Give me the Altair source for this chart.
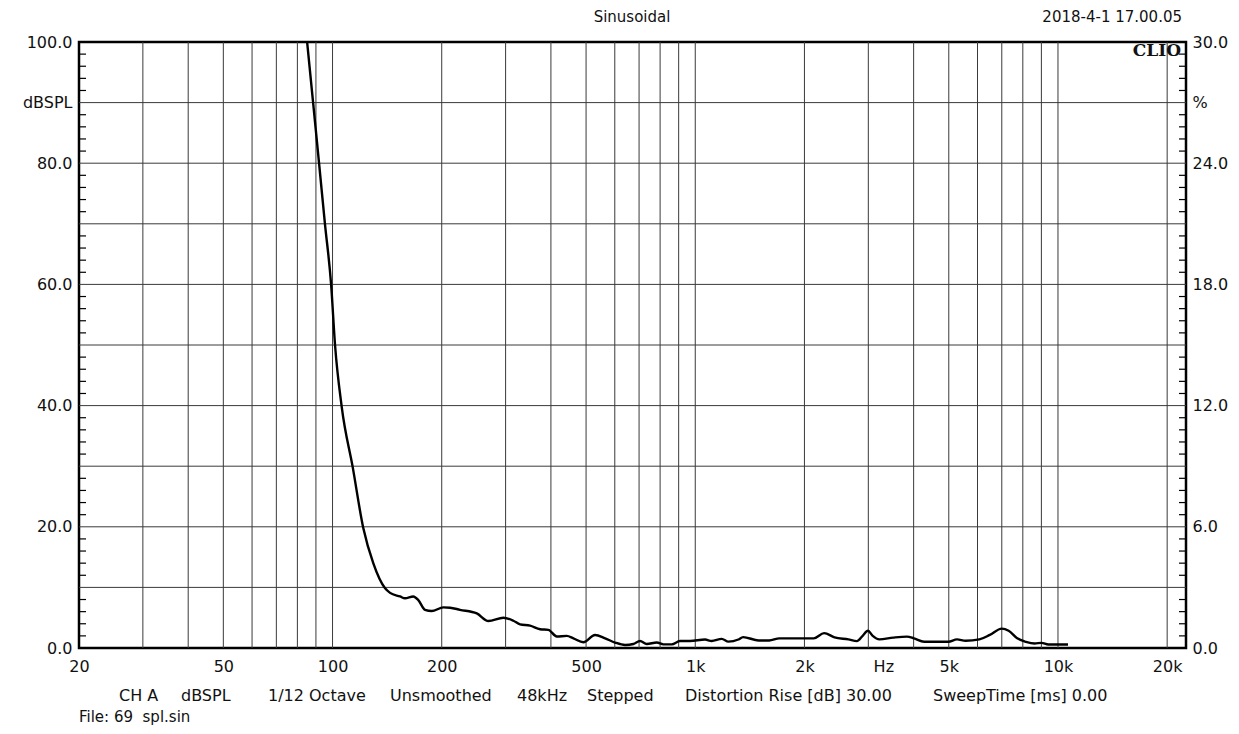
import altair as alt
import pandas as pd

# ---------------- data ----------------
freq_hz = [85.1, 88.4, 91.8, 95.3, 99.1, 101.6, 106, 113.7, 121.6, 129.5,
           139.6, 144.1, 153.5, 158.4, 167, 172.4, 179.9, 187.7, 202, 210.9,
           224.6, 249.9, 269, 295.8, 315.2, 328.9, 350.4, 373.5, 393.6, 415.2,
           442.4, 461.4, 491.5, 529.4, 564.2, 601, 640.4, 675.2, 704.4, 735,
           783.3, 816.6, 861.2, 907.8, 967.4, 1064, 1110, 1183, 1234, 1315,
           1355, 1495, 1598, 1706, 1861, 2122, 2266, 2421, 2643, 2791,
           2898, 2993, 3080, 3218, 3512, 3834, 4006, 4276, 4986, 5268,
           5564, 6071, 6486, 6998, 7311, 7722, 8160, 8618, 9004, 9407, 10656]
level_db = [100, 90, 80, 70, 60, 50, 39.8, 29.8, 19.75, 14,
            9.85, 9.1, 8.5, 8.2, 8.5, 7.9, 6.3, 6.1, 6.7, 6.65,
            6.3, 5.7, 4.45, 5.0, 4.5, 3.9, 3.7, 3.1, 3.0, 1.9,
            2.0, 1.6, 0.95, 2.15, 1.6, 0.9, 0.5, 0.66, 1.15, 0.66,
            0.9, 0.6, 0.6, 1.15, 1.15, 1.4, 1.15, 1.5, 1.05, 1.4,
            1.8, 1.25, 1.25, 1.59, 1.59, 1.59, 2.45, 1.76, 1.42, 1.14,
            2.05, 2.85, 2.05, 1.42, 1.71, 1.88, 1.59, 1.02, 1.02, 1.42,
            1.19, 1.42, 2.16, 3.2, 2.85, 1.59, 1.02, 0.74, 0.85, 0.57, 0.57]

x_grid_hz = [30, 40, 50, 60, 70, 80, 90, 100, 200, 300, 400, 500, 600, 700,
             800, 900, 1000, 2000, 3000, 4000, 5000, 6000, 7000, 8000, 9000,
             10000, 20000]
x_label_hz = [20, 50, 100, 200, 500, 1000, 2000, 3300, 5000, 10000, 20000]
x_label_text = ["20", "50", "100", "200", "500", "1k", "2k", "Hz", "5k", "10k", "20k"]

y_grid_db = [10, 20, 30, 40, 50, 60, 70, 80, 90]
y_label_db = [0, 20, 40, 60, 80, 90, 100]
y_left_text = ["0.0", "20.0", "40.0", "60.0", "80.0", "dBSPL", "100.0"]
y_right_text = ["0.0", "6.0", "12.0", "18.0", "24.0", "%", "30.0"]
minor_ticks_db = [2, 4, 6, 8, 12, 14, 16, 18, 22, 24, 26, 28, 32, 34, 36, 38,
                  42, 44, 46, 48, 52, 54, 56, 58, 62, 64, 66, 68, 72, 74, 76, 78,
                  82, 84, 86, 88, 92, 94, 96, 98]

title_text = "Sinusoidal"
date_text = "2018-4-1 17.00.05"
brand_text = "CLIO"
footer_items = ["CH A", "dBSPL", "1/12 Octave", "Unsmoothed", "48kHz", "Stepped",
                "Distortion Rise [dB] 30.00", "SweepTime [ms] 0.00"]
file_text = "File: 69\u00a0 spl.sin"

# ---------------- chart ----------------
W, H = 1107, 606
FONT = "DejaVu Sans"
TXT = "#111111"
GRID = "#3a3a3a"

def label_expr(values, texts):
    parts = "".join(f"datum.value == {v} ? '{t}' : " for v, t in zip(values, texts))
    return parts + "''"

x_scale = alt.Scale(type="log", domain=[20, 22540], nice=False)
y_scale = alt.Scale(domain=[0, 100], nice=False, zero=False)

line_df = pd.DataFrame({"f": freq_hz, "v": level_db})
xgrid_df = pd.DataFrame({"f": x_grid_hz})
ygrid_df = pd.DataFrame({"v": y_grid_db})
minor_df = pd.DataFrame({"v": minor_ticks_db})

line = alt.Chart(line_df).mark_line(color="black", strokeWidth=2.4,
                                    interpolate="monotone", clip=True).encode(
    x=alt.X("f:Q", scale=x_scale,
            axis=alt.Axis(orient="bottom", values=x_label_hz,
                          labelExpr=label_expr(x_label_hz, x_label_text),
                          title=None, labelPadding=10, labelFlush=False,
                          labelOverlap=False)),
    y=alt.Y("v:Q", scale=y_scale,
            axis=alt.Axis(orient="left", values=y_label_db,
                          labelExpr=label_expr(y_label_db, y_left_text),
                          title=None, labelPadding=7, labelAlign="right",
                          labelBaseline="middle")))

xgrid = alt.Chart(xgrid_df).mark_rule(color=GRID, strokeWidth=1).encode(
    x=alt.X("f:Q", scale=x_scale, axis=None))
ygrid = alt.Chart(ygrid_df).mark_rule(color=GRID, strokeWidth=1).encode(
    y=alt.Y("v:Q", scale=y_scale, axis=None))

left_ticks = alt.Chart(minor_df).mark_rule(color="black", strokeWidth=1.2).encode(
    y=alt.Y("v:Q", scale=y_scale, axis=None),
    x=alt.value(0), x2=alt.value(7))

right_ticks = alt.Chart(minor_df).mark_rule(color="black", strokeWidth=1.2).encode(
    y=alt.Y("v:Q", scale=y_scale,
            axis=alt.Axis(orient="right", values=y_label_db,
                          labelExpr=label_expr(y_label_db, y_right_text),
                          title=None, labelPadding=6, labelAlign="left",
                          labelBaseline="middle")),
    x=alt.value(W - 7), x2=alt.value(W))

def text_layer(s, x, y, align="left", font=FONT, size=16, weight="normal"):
    return alt.Chart(pd.DataFrame({"t": [s]})).mark_text(
        align=align, baseline="alphabetic", font=font, fontSize=size,
        fontWeight=weight, color=TXT).encode(
        x=alt.value(x), y=alt.value(y), text="t:N")

texts = [
    text_layer(title_text, 553, -20, align="center", size=15),
    text_layer(date_text, 1103, -20, align="right", size=15),
    text_layer(brand_text, 1102, 14, align="right", font="DejaVu Serif",
               size=17, weight="bold"),
    text_layer(file_text, 0, 680, size=15),
]
footer_x = [40, 102, 189, 311, 438, 508, 606, 854]
for s, px in zip(footer_items, footer_x):
    texts.append(text_layer(s, px, 659))

chart = alt.layer(xgrid, ygrid, left_ticks, right_ticks, line, *texts).resolve_axis(
    x="independent", y="independent"
).properties(
    width=W, height=H,
    autosize=alt.AutoSizeParams(type="none"),
    padding={"left": 71, "top": 34, "right": 45, "bottom": 78},
    background="white",
).configure_view(
    stroke="black", strokeWidth=2.5
).configure_axis(
    labelFont=FONT, labelFontSize=16, labelColor=TXT,
    domain=False, ticks=False, tickSize=0, grid=False
)

chart.save("out.html", embed_options={"renderer": "svg", "actions": False})
